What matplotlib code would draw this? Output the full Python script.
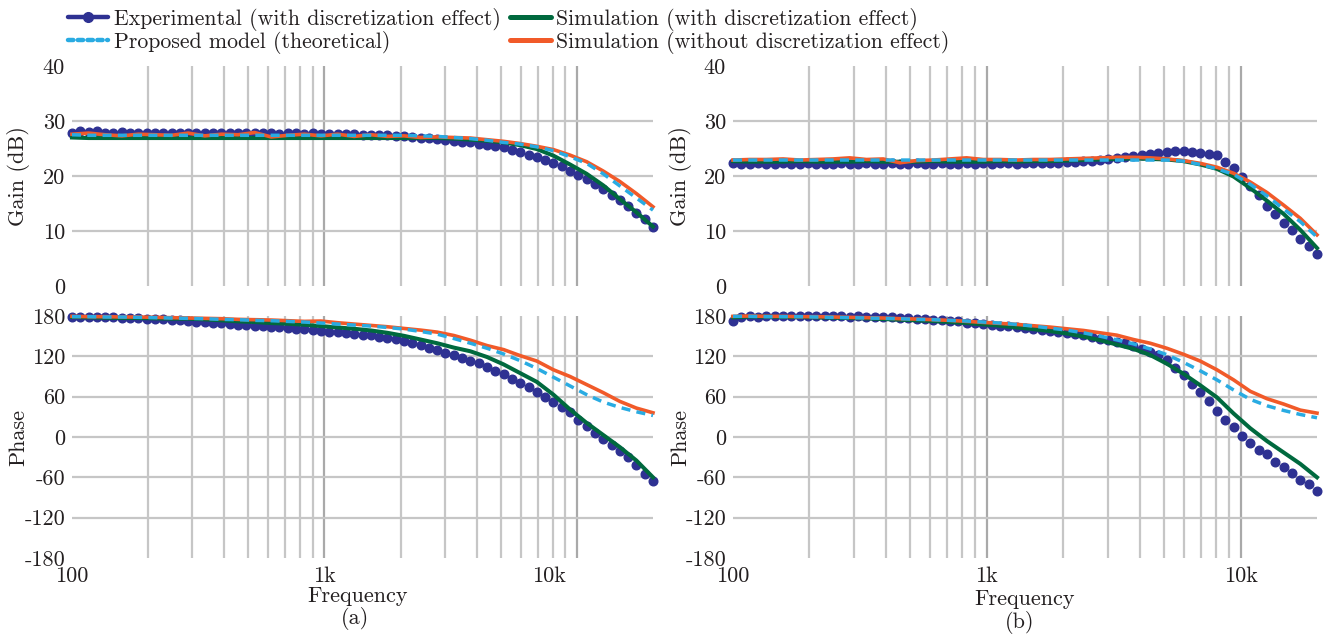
import numpy as np
import matplotlib
matplotlib.use('Agg')
import matplotlib.pyplot as plt
from matplotlib.lines import Line2D
import matplotlib.transforms as mtransforms

plt.rcParams['font.family'] = ['cmr10', 'DejaVu Serif']
plt.rcParams['axes.unicode_minus'] = False
plt.rcParams['mathtext.fontset'] = 'cm'

# ---------------- data ----------------
freq_exp = np.geomspace(100, 20000, 71)   # measured sweep points
freq_line = freq_exp[::2]                 # simulation / model points

labels = ["Experimental (with discretization effect)",
          "Proposed model (theoretical)",
          "Simulation (with discretization effect)",
          "Simulation (without discretization effect)"]

# (a) gain
gain_a_exp = [27.9, 28.1, 28.0, 28.1, 27.9, 27.9, 28.0, 27.8, 27.8, 27.9, 27.8, 27.8, 27.9, 27.9,
              27.8, 27.9, 27.9, 27.9, 27.8, 27.9, 27.9, 27.8, 27.9, 27.8, 27.9, 27.7, 27.8, 27.8,
              27.7, 27.8, 27.7, 27.7, 27.6, 27.6, 27.6, 27.5, 27.5, 27.4, 27.4, 27.3, 27.2,
              27.1, 27.0, 26.9, 26.7, 26.6, 26.4, 26.2, 26.1, 25.9, 25.7, 25.4, 25.2, 24.8, 24.3,
              23.9, 23.5, 23.0, 22.4, 21.8, 21.0, 20.2, 19.4, 18.5, 17.6, 16.6, 15.6, 14.5, 13.3,
              12.1, 10.8]
gain_a_sim = [27.0, 26.9, 26.9, 26.9, 26.9, 26.9, 26.9, 26.9, 26.9, 26.9, 26.9, 26.9, 26.9, 26.9,
              26.9, 26.9, 26.9, 26.9, 26.9, 26.9, 26.9, 26.9, 26.9, 26.8, 26.6, 26.4, 26.1, 25.6,
              24.9, 23.7, 22.1, 20.4, 18.3, 15.8, 13.4, 10.8]
gain_a_model = [27.5, 27.4, 27.4, 27.4, 27.4, 27.4, 27.4, 27.4, 27.4, 27.4, 27.4, 27.4, 27.4, 27.4,
                27.4, 27.4, 27.4, 27.4, 27.4, 27.4, 27.4, 27.3, 27.2, 27.0, 26.8, 26.5, 26.1, 25.8,
                25.3, 24.6, 23.5, 22.3, 20.4, 18.2, 16.0, 13.8]
gain_a_nodisc = [27.6, 27.8, 27.5, 27.3, 27.6, 27.5, 27.4, 27.8, 27.3, 27.6, 27.5, 27.9, 27.1, 27.4,
                 27.6, 27.3, 27.6, 27.2, 27.5, 27.2, 27.3, 27.0, 27.1, 27.0, 26.9, 26.6, 26.3, 25.9,
                 25.4, 24.8, 23.8, 22.6, 20.9, 19.0, 16.8, 14.4]

# (a) phase
phase_a_exp = [179, 179, 178.5, 178.5, 178, 178, 177.5, 177, 176.5, 176, 175.5, 175, 174.5, 173.5,
               172.5, 171.5, 171, 170, 169, 168, 167, 166, 165.5, 165, 164, 163, 162, 161, 160, 159,
               157.5, 156.5, 155.5, 154.5, 153.5, 152, 151, 149.5, 148, 146,
               143.5, 140, 136.5, 133, 129, 125.5, 121.5, 117.5, 113.5, 109.5, 104, 98.5, 93, 87,
               80.5, 74, 66.5, 59.5, 51.5, 44.5, 36.5, 26, 16.5, 6, -2.5, -11.5, -21, -30, -42,
               -55, -66]
phase_a_sim = [178.5, 178, 177.5, 177, 177, 176.5, 176, 176, 175, 173.5, 172, 171, 169.5, 168.5,
               167, 165, 163, 161, 158.5, 155, 150.5, 145, 139.5, 133, 127.5, 119, 108, 95, 82, 63,
               41, 21, 3, -15, -35, -60]
phase_a_model = [179, 179, 178.5, 178.5, 178, 177.5, 177, 176.5, 176, 175, 174.5, 173.5, 173, 172,
                 171, 169.5, 168, 166.5, 165, 163, 160.5, 157, 153, 146.5, 139.5, 132, 123.5,
                 113.5, 102, 89, 76, 63, 52, 44, 37.5, 32]
phase_a_nodisc = [179.5, 179, 179, 178.5, 178.5, 178, 177.5, 177, 176.5, 176, 175, 174.5, 174, 173,
                  172, 172.5, 170, 168, 166, 164, 161.5, 159, 156, 151, 144, 136, 130, 121, 113,
                  100, 90, 78, 66, 53, 43, 36]

# (b) gain
gain_b_exp = [22.3, 22.2, 22.2, 22.3, 22.2, 22.2, 22.3, 22.2, 22.2, 22.3, 22.2, 22.2, 22.2, 22.3,
              22.2, 22.2, 22.3, 22.2, 22.2, 22.3, 22.2, 22.2, 22.3, 22.2, 22.2, 22.3, 22.2, 22.2,
              22.3, 22.2, 22.3, 22.2, 22.3, 22.3, 22.2, 22.3, 22.3, 22.3, 22.4,
              22.4, 22.5, 22.6, 22.7, 22.8, 23.0, 23.1, 23.3, 23.5, 23.7, 23.8, 24.0, 24.1, 24.3,
              24.5, 24.5, 24.4, 24.2, 24.0, 23.8, 22.6, 21.4, 19.9, 18.1, 16.5, 14.5, 13.1, 11.4,
              10.1, 8.5, 7.2, 5.8]
gain_b_sim = [22.7, 22.6, 22.6, 22.6, 22.7, 22.6, 22.6, 22.6, 22.7, 22.6, 22.6, 22.6, 22.7, 22.6,
              22.6, 22.6, 22.7, 22.6, 22.7, 22.7, 22.8, 22.9, 23.0, 23.1, 23.2, 23.1, 23.0, 22.7,
              22.1, 21.3, 19.9, 17.8, 15.5, 13.1, 10.2, 6.9]
gain_b_model = [22.9, 22.9, 22.9, 22.9, 22.9, 22.9, 22.9, 22.9, 22.9, 22.9, 22.9, 22.9, 22.9, 22.9,
                22.9, 22.9, 22.9, 22.9, 22.9, 22.9, 22.9, 22.9, 22.9, 22.9, 22.9, 22.9, 22.9, 22.7,
                22.1, 21.3, 20.3, 18.5, 16.4, 14.0, 11.7, 8.9]
gain_b_nodisc = [22.9, 23.0, 23.0, 23.1, 22.9, 23.0, 23.1, 23.3, 23.0, 23.1, 22.4, 22.8, 22.9, 23.1,
                 23.3, 23.0, 23.0, 22.9, 23.0, 23.0, 23.1, 23.2, 23.3, 23.4, 23.4, 23.3, 23.1, 22.8,
                 22.3, 21.6, 20.5, 18.9, 17.0, 14.7, 12.3, 9.3]

# (b) phase
phase_b_exp = [172, 178.5, 179.5, 179, 180, 179.5, 179.5, 180, 179.5, 180, 180, 179.5, 180, 179.5,
               179, 179.5, 179, 178.5, 178.5, 178, 177.5, 177, 176, 175.5, 174.5, 174, 173, 172,
               170, 169, 167.5, 166.5, 165.5, 164.5, 163, 162, 160.5, 159.5, 158, 156.5, 155, 153,
               151, 148.5, 146, 143.6, 141.5, 139.6, 136, 131.3, 126.3, 121.3, 113.9, 103, 91.6, 79,
               66.7, 53.3, 38.4, 24.6, 14.6, 2.2, -9.3, -19, -26, -37.5, -45, -54, -63.4, -69.8,
               -79.8]
phase_b_sim = [178, 179, 179, 178.5, 178.5, 178, 177.5, 177, 176.5, 175.5, 174.5, 173.5, 172.5, 171,
               169.5, 167.5, 165.5, 163, 160.5, 157.5, 154, 149.5, 144, 137.5, 131, 122, 109, 94,
               77, 59, 35, 13, -6, -23, -40, -60]
phase_b_model = [179.5, 179.5, 179, 179, 179, 178.5, 178, 177.5, 177, 176.5, 176, 175, 174.5, 173.5,
                 172.5, 171, 169.5, 167.5, 165, 162, 159, 155, 150, 144.5, 138.5, 131, 122.5, 111,
                 98.5, 85, 70, 56, 46.5, 39.5, 33.5, 28.6]
phase_b_nodisc = [179.5, 180, 179.5, 179.5, 179, 179, 178.5, 178, 177.5, 177, 176, 175.5, 174.5,
                  173.5, 172, 170.5, 169, 167.5, 165.5, 163.5, 161, 158.5, 155, 151.5, 145, 139.5,
                  132, 123, 113, 100, 85, 68, 57, 49, 40, 35.5]

gain_ticks = [0, 10, 20, 30, 40]
phase_ticks = [-180, -120, -60, 0, 60, 120, 180]
x_ticks = [100, 1000, 10000]
x_ticklabels = ['100', '1k', '10k']
grid_freqs = [200, 300, 400, 500, 600, 700, 800, 900, 1000,
              2000, 3000, 4000, 5000, 6000, 7000, 8000, 9000, 10000]

# ---------------- style ----------------
C_EXP = '#2e3192'
C_MOD = '#29abe2'
C_SIM = '#00693e'
C_NOD = '#f15a29'
C_GRID = '#c6c6c6'
C_GRID2 = '#a9a9a9'
C_TXT = '#231f20'
FS = 16

W, H = 1324, 635
fig = plt.figure(figsize=(W / 100, H / 100), dpi=100)


def px_axes(x0, y0, x1, y1):
    return fig.add_axes([x0 / W, 1 - y1 / H, (x1 - x0) / W, (y1 - y0) / H])


def style(ax, ylim, yticks, hlines, show_x):
    ax.set_xscale('log')
    ax.set_xlim(100, 20000)
    ax.set_ylim(*ylim)
    for s in ax.spines.values():
        s.set_visible(False)
    ax.set_facecolor('none')
    for f in grid_freqs:
        ax.axvline(f, color=C_GRID2 if f in (1000, 10000) else C_GRID, lw=1.6, zorder=0)
    for h in hlines:
        ax.axhline(h, color=C_GRID, lw=1.6, zorder=0)
    ax.set_yticks(yticks)
    ax.set_yticklabels([str(t) for t in yticks], fontsize=FS, color=C_TXT)
    ax.xaxis.set_minor_locator(matplotlib.ticker.NullLocator())
    if show_x:
        ax.set_xticks(x_ticks)
        ax.set_xticklabels(x_ticklabels, fontsize=FS, color=C_TXT)
    else:
        ax.set_xticks([])
    ax.tick_params(axis='y', length=0, pad=5)
    ax.tick_params(axis='x', length=0, pad=6)


def draw(ax, y_exp, y_sim, y_mod, y_nod):
    ax.plot(freq_exp, y_exp, ls='none', marker='o', ms=6.2, color=C_EXP, mec=C_EXP,
            zorder=2, clip_on=False)
    ax.plot(freq_line, y_sim, color=C_SIM, lw=2.9, zorder=3, clip_on=False)
    ax.plot(freq_line, y_nod, color=C_NOD, lw=2.6, zorder=4, clip_on=False)
    ax.plot(freq_line, y_mod, color=C_MOD, lw=2.5, ls=(0, (2.6, 1.8)), zorder=5, clip_on=False)


axes_px = {
    'ga': (72, 66, 653, 286), 'pa': (72, 316, 653, 558),
    'gb': (733, 66, 1317, 286), 'pb': (733, 316, 1317, 558),
}
ax_ga = px_axes(*axes_px['ga'])
ax_pa = px_axes(*axes_px['pa'])
ax_gb = px_axes(*axes_px['gb'])
ax_pb = px_axes(*axes_px['pb'])

style(ax_ga, (0, 40), gain_ticks, [10, 20, 30], False)
style(ax_gb, (0, 40), gain_ticks, [10, 20, 30], False)
style(ax_pa, (-180, 180), phase_ticks, [-120, -60, 0, 60, 120], True)
style(ax_pb, (-180, 180), phase_ticks, [-120, -60, 0, 60, 120], True)

draw(ax_ga, gain_a_exp, gain_a_sim, gain_a_model, gain_a_nodisc)
draw(ax_pa, phase_a_exp, phase_a_sim, phase_a_model, phase_a_nodisc)
draw(ax_gb, gain_b_exp, gain_b_sim, gain_b_model, gain_b_nodisc)
draw(ax_pb, phase_b_exp, phase_b_sim, phase_b_model, phase_b_nodisc)

# left "10k" label sits slightly left of its grid line in the reference
lbl = ax_pa.get_xticklabels()[2]
lbl.set_transform(lbl.get_transform() + mtransforms.ScaledTranslation(-28 / 100, 0, fig.dpi_scale_trans))

# axis labels
for xc in (19, 681):
    fig.text(xc / W, 1 - 176 / H, 'Gain (dB)', rotation=90, ha='center', va='center',
             fontsize=FS, color=C_TXT)
    fig.text(xc / W, 1 - 437 / H, 'Phase', rotation=90, ha='center', va='center',
             fontsize=FS, color=C_TXT)
fig.text(358 / W, 1 - 596 / H, 'Frequency', ha='center', va='center', fontsize=FS, color=C_TXT)
fig.text(355 / W, 1 - 619 / H, '(a)', ha='center', va='center', fontsize=FS, color=C_TXT)
fig.text(1025 / W, 1 - 599 / H, 'Frequency', ha='center', va='center', fontsize=FS, color=C_TXT)
fig.text(1020 / W, 1 - 622 / H, '(b)', ha='center', va='center', fontsize=FS, color=C_TXT)

# legend
handles = [
    Line2D([], [], color=C_EXP, lw=3.2, marker='o', ms=7, solid_capstyle='round'),
    Line2D([], [], color=C_MOD, lw=3.2, ls=(0, (1.2, 1.0)), dash_capstyle='round'),
    Line2D([], [], color=C_SIM, lw=3.6, solid_capstyle='round'),
    Line2D([], [], color=C_NOD, lw=3.6, solid_capstyle='round'),
]
leg = fig.legend(handles, labels, ncol=2, loc='upper left', bbox_to_anchor=(68 / W, 1 - 8 / H),
                 frameon=False, prop={'size': 15.7}, handlelength=1.85, handletextpad=0.25,
                 columnspacing=0.45, labelspacing=0.0, borderaxespad=0, borderpad=0,
                 numpoints=1)
for t in leg.get_texts():
    t.set_color(C_TXT)

fig.savefig('out.png', dpi=100)
